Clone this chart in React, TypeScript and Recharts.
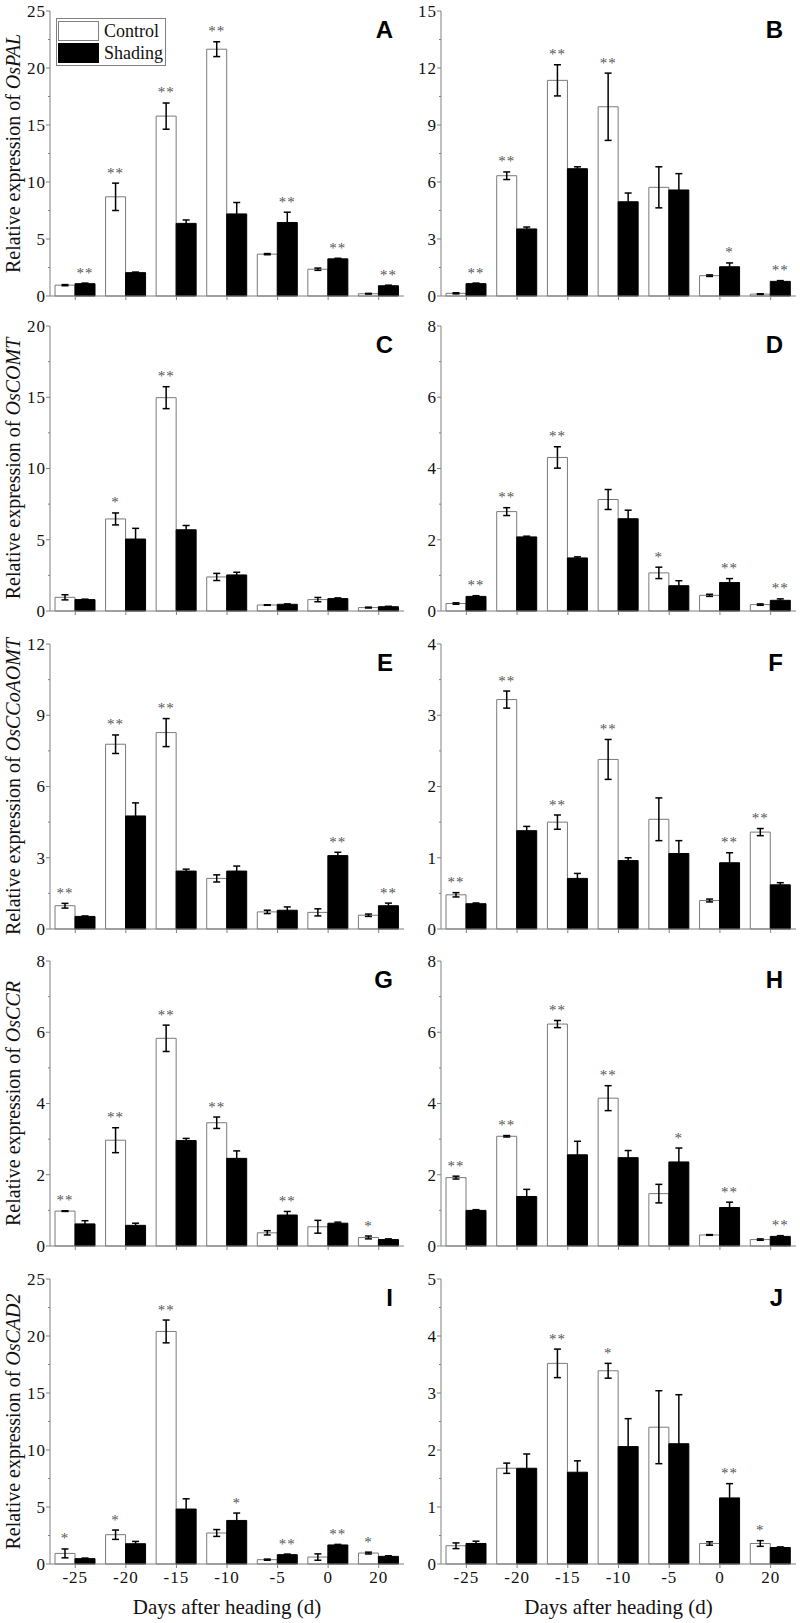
import React from "react";
import { BarChart, Bar, XAxis, YAxis, ErrorBar, LabelList, Label } from "recharts";

const days = ["-25", "-20", "-15", "-10", "-5", "0", "20"];

// A / B – OsPAL
const aControl = [0.95, 8.7, 15.78, 21.65, 3.67, 2.35, 0.2];
const aControlErr = [0.05, 1.2, 1.15, 0.65, 0.05, 0.1, 0.03];
const aShading = [1.08, 2.05, 6.37, 7.2, 6.45, 3.26, 0.9];
const aShadingErr = [0.05, 0.05, 0.3, 1.0, 0.9, 0.05, 0.05];
const aControlSig = ["", "**", "**", "**", "", "", ""];
const aShadingSig = ["**", "", "", "", "**", "**", "**"];
const aTicks = [0, 5, 10, 15, 20, 25];

const bControl = [0.14, 6.33, 11.35, 9.96, 5.72, 1.07, 0.1];
const bControlErr = [0.03, 0.2, 0.82, 1.77, 1.08, 0.04, 0.02];
const bShading = [0.65, 3.53, 6.7, 4.96, 5.58, 1.54, 0.77];
const bShadingErr = [0.03, 0.1, 0.1, 0.46, 0.86, 0.2, 0.04];
const bControlSig = ["", "**", "**", "**", "", "", ""];
const bShadingSig = ["**", "", "", "", "", "*", "**"];
const bTicks = [0, 3, 6, 9, 12, 15];

// C / D – OsCOMT
const cControl = [0.96, 6.46, 14.97, 2.39, 0.42, 0.8, 0.24];
const cControlErr = [0.18, 0.42, 0.77, 0.25, 0.02, 0.15, 0.03];
const cShading = [0.8, 5.05, 5.7, 2.53, 0.47, 0.87, 0.3];
const cShadingErr = [0.03, 0.75, 0.3, 0.19, 0.03, 0.05, 0.03];
const cControlSig = ["", "*", "**", "", "", "", ""];
const cShadingSig = ["", "", "", "", "", "", ""];
const cTicks = [0, 5, 10, 15, 20];

const dControl = [0.21, 2.79, 4.31, 3.13, 1.07, 0.44, 0.18];
const dControlErr = [0.02, 0.11, 0.3, 0.28, 0.16, 0.03, 0.02];
const dShading = [0.41, 2.08, 1.49, 2.59, 0.71, 0.8, 0.3];
const dShadingErr = [0.02, 0.02, 0.03, 0.24, 0.14, 0.11, 0.04];
const dControlSig = ["", "**", "**", "", "*", "", ""];
const dShadingSig = ["**", "", "", "", "", "**", "**"];
const dTicks = [0, 2, 4, 6, 8];

// E / F – OsCCoAOMT
const eControl = [0.98, 7.78, 8.27, 2.13, 0.72, 0.7, 0.58];
const eControlErr = [0.1, 0.39, 0.59, 0.15, 0.07, 0.15, 0.05];
const eShading = [0.53, 4.76, 2.44, 2.44, 0.79, 3.09, 0.98];
const eShadingErr = [0.02, 0.55, 0.08, 0.21, 0.14, 0.14, 0.11];
const eControlSig = ["**", "**", "**", "", "", "", ""];
const eShadingSig = ["", "", "", "", "", "**", "**"];
const eTicks = [0, 3, 6, 9, 12];

const fControl = [0.48, 3.22, 1.5, 2.38, 1.54, 0.4, 1.36];
const fControlErr = [0.03, 0.12, 0.1, 0.28, 0.3, 0.02, 0.05];
const fShading = [0.355, 1.38, 0.71, 0.96, 1.06, 0.93, 0.62];
const fShadingErr = [0.01, 0.06, 0.07, 0.04, 0.18, 0.14, 0.03];
const fControlSig = ["**", "**", "**", "**", "", "", "**"];
const fShadingSig = ["", "", "", "", "", "**", ""];
const fTicks = [0, 1, 2, 3, 4];

// G / H – OsCCR
const gControl = [0.98, 2.97, 5.83, 3.46, 0.37, 0.54, 0.24];
const gControlErr = [0.01, 0.35, 0.37, 0.16, 0.06, 0.18, 0.04];
const gShading = [0.62, 0.58, 2.96, 2.46, 0.87, 0.64, 0.18];
const gShadingErr = [0.09, 0.06, 0.06, 0.21, 0.1, 0.03, 0.02];
const gControlSig = ["**", "**", "**", "**", "", "", "*"];
const gShadingSig = ["", "", "", "", "**", "", ""];
const gTicks = [0, 2, 4, 6, 8];

const hControl = [1.92, 3.08, 6.23, 4.15, 1.47, 0.31, 0.18];
const hControlErr = [0.04, 0.02, 0.1, 0.35, 0.26, 0.01, 0.02];
const hShading = [1.0, 1.39, 2.56, 2.48, 2.36, 1.08, 0.27];
const hShadingErr = [0.02, 0.2, 0.38, 0.2, 0.39, 0.15, 0.02];
const hControlSig = ["**", "**", "**", "**", "", "", ""];
const hShadingSig = ["", "", "", "", "*", "**", "**"];
const hTicks = [0, 2, 4, 6, 8];

// I / J – OsCAD2
const iControl = [0.93, 2.57, 20.4, 2.72, 0.38, 0.61, 0.96];
const iControlErr = [0.39, 0.41, 1.0, 0.3, 0.05, 0.28, 0.08];
const iShading = [0.47, 1.78, 4.82, 3.82, 0.82, 1.67, 0.67];
const iShadingErr = [0.05, 0.2, 0.9, 0.65, 0.05, 0.05, 0.05];
const iControlSig = ["*", "*", "**", "", "", "", "*"];
const iShadingSig = ["", "", "", "*", "**", "**", ""];
const iTicks = [0, 5, 10, 15, 20, 25];

const jControl = [0.32, 1.68, 3.52, 3.39, 2.4, 0.36, 0.36];
const jControlErr = [0.05, 0.09, 0.25, 0.13, 0.64, 0.03, 0.05];
const jShading = [0.36, 1.68, 1.61, 2.06, 2.11, 1.16, 0.29];
const jShadingErr = [0.04, 0.25, 0.2, 0.49, 0.86, 0.25, 0.01];
const jControlSig = ["", "", "**", "*", "", "", "*"];
const jShadingSig = ["", "", "", "", "", "**", ""];
const jTicks = [0, 1, 2, 3, 4, 5];

const SERIF = "'Liberation Serif', 'Times New Roman', serif";
const SANS = "'Liberation Sans', Arial, sans-serif";
const FRAME = "#808080";

const rows = (c: number[], ce: number[], s: number[], se: number[], cs: string[], ss: string[]) =>
  days.map((day, i) => ({
    day,
    control: c[i],
    controlErr: ce[i],
    shading: s[i],
    shadingErr: se[i],
    controlSig: cs[i],
    shadingSig: ss[i],
  }));

const panels = [
  { letter: "A", gene: "OsPAL", ticks: aTicks, data: rows(aControl, aControlErr, aShading, aShadingErr, aControlSig, aShadingSig) },
  { letter: "B", gene: "", ticks: bTicks, data: rows(bControl, bControlErr, bShading, bShadingErr, bControlSig, bShadingSig) },
  { letter: "C", gene: "OsCOMT", ticks: cTicks, data: rows(cControl, cControlErr, cShading, cShadingErr, cControlSig, cShadingSig) },
  { letter: "D", gene: "", ticks: dTicks, data: rows(dControl, dControlErr, dShading, dShadingErr, dControlSig, dShadingSig) },
  { letter: "E", gene: "OsCCoAOMT", ticks: eTicks, data: rows(eControl, eControlErr, eShading, eShadingErr, eControlSig, eShadingSig) },
  { letter: "F", gene: "", ticks: fTicks, data: rows(fControl, fControlErr, fShading, fShadingErr, fControlSig, fShadingSig) },
  { letter: "G", gene: "OsCCR", ticks: gTicks, data: rows(gControl, gControlErr, gShading, gShadingErr, gControlSig, gShadingSig) },
  { letter: "H", gene: "", ticks: hTicks, data: rows(hControl, hControlErr, hShading, hShadingErr, hControlSig, hShadingSig) },
  { letter: "I", gene: "OsCAD2", ticks: iTicks, data: rows(iControl, iControlErr, iShading, iShadingErr, iControlSig, iShadingSig) },
  { letter: "J", gene: "", ticks: jTicks, data: rows(jControl, jControlErr, jShading, jShadingErr, jControlSig, jShadingSig) },
];

// layout: plot-area top per row (page px), plot height
const PLOT_TOPS = [11, 326, 644, 961, 1279];
const PLOT_H = 285;

// significance stars sit just above the error bar
const starLabel = (vals: number[], errs: number[]) => (props: any) => {
  const { x, y, width, height, value, index } = props;
  if (!value) return null;
  const px = Number(height) / vals[index];
  const top = Number(y) - errs[index] * px;
  return (
    <text x={Number(x) + Number(width) / 2} y={top - 5.5} textAnchor="middle" fontSize={15} letterSpacing={1} fill="#555" fontFamily={SERIF}>
      {value}
    </text>
  );
};

function Panel({ p, idx }: { p: (typeof panels)[number]; idx: number }) {
  const col = idx % 2;
  const row = Math.floor(idx / 2);
  const bottom = row === 4;
  const top = Math.min(PLOT_TOPS[row], 40);
  const axisW = col === 0 ? 50 : 41;
  const width = col === 0 ? 410 : 400;
  const right = col === 0 ? 6 : 4;
  const xAxisH = bottom ? 59 : 24;
  const height = top + PLOT_H + xAxisH;
  const max = p.ticks[p.ticks.length - 1];
  const step = p.ticks[1] - p.ticks[0];
  const allTicks: number[] = [];
  p.ticks.forEach((t, i) => {
    allTicks.push(t);
    if (i < p.ticks.length - 1) allTicks.push(t + step / 2);
  });
  const plotRight = width - right;
  const plotCx = (axisW + plotRight) / 2;

  const yTick = (tp: any) => {
    const v = tp.payload.value;
    const cy = tp.y;
    const major = p.ticks.includes(v);
    return (
      <g>
        <line x1={axisW - (major ? 4 : 2)} x2={axisW} y1={cy} y2={cy} stroke={FRAME} />
        {major && (
          <text x={axisW - 4} y={cy} dy="0.35em" textAnchor="end" fontSize={17} letterSpacing={1} fill="#111" fontFamily={SERIF}>
            {v}
          </text>
        )}
      </g>
    );
  };

  return (
    <div style={{ position: "absolute", left: col === 0 ? 0 : 400, top: PLOT_TOPS[row] - top, width, height }}>
      <BarChart
        width={width}
        height={height}
        data={p.data}
        margin={{ top, right, bottom: 0, left: 0 }}
        barGap={0}
        barSize={20}
      >
        <XAxis
          dataKey="day"
          height={xAxisH}
          interval={0}
          stroke={FRAME}
          tickSize={4}
          tickMargin={3}
          tick={bottom ? { fontSize: 17, fill: "#111", fontFamily: SERIF, letterSpacing: 1 } : () => <g />}
        >
          {bottom && (
            <Label
              content={() => (
                <text x={plotCx} y={top + PLOT_H + 50} textAnchor="middle" fontSize={21} fill="#111" fontFamily={SERIF}>
                  Days after heading (d)
                </text>
              )}
            />
          )}
        </XAxis>
        <XAxis xAxisId="top" dataKey="day" orientation="top" height={0} tick={false} tickLine={false} axisLine={{ stroke: FRAME }} />
        <YAxis
          width={axisW}
          domain={[0, max]}
          ticks={allTicks}
          interval={0}
          tickLine={false}
          axisLine={{ stroke: FRAME }}
          tick={yTick}
        >
          {p.gene && (
            <Label
              content={() => {
                const cy = top + PLOT_H / 2;
                return (
                  <text x={20} y={cy} transform={`rotate(-90, 20, ${cy})`} textAnchor="middle" fontSize={20} fill="#111" fontFamily={SERIF}>
                    Relative expression of <tspan fontStyle="italic">{p.gene}</tspan>
                  </text>
                );
              }}
            />
          )}
        </YAxis>
        <YAxis yAxisId="frame" orientation="right" width={0} tick={false} tickLine={false} axisLine={{ stroke: FRAME }} />
        <Bar dataKey="control" fill="#ffffff" stroke="#7a7a7a" strokeWidth={1} isAnimationActive={false}>
          <ErrorBar dataKey="controlErr" width={3.5} stroke="#000" strokeWidth={1.5} />
          <LabelList dataKey="controlSig" content={starLabel(p.data.map((d) => d.control), p.data.map((d) => d.controlErr))} />
        </Bar>
        <Bar dataKey="shading" fill="#000000" stroke="#000000" strokeWidth={1} isAnimationActive={false}>
          <ErrorBar dataKey="shadingErr" width={3.5} stroke="#000" strokeWidth={1.5} />
          <LabelList dataKey="shadingSig" content={starLabel(p.data.map((d) => d.shading), p.data.map((d) => d.shadingErr))} />
        </Bar>
      </BarChart>
      <svg width={width} height={height} style={{ position: "absolute", left: 0, top: 0, pointerEvents: "none" }}>
        <text x={plotRight - (col === 0 ? 11 : 13)} y={top + 27} textAnchor="end" fontSize={24} fontWeight="bold" fill="#000" fontFamily={SANS}>
          {p.letter}
        </text>
      </svg>
    </div>
  );
}

function LegendBox() {
  return (
    <div
      style={{
        position: "absolute",
        left: 56,
        top: 18,
        width: 110,
        height: 48,
        boxSizing: "border-box",
        border: `1px solid ${FRAME}`,
        background: "#fff",
        fontFamily: SERIF,
        fontSize: 18,
        color: "#111",
      }}
    >
      <div style={{ position: "absolute", left: 1, top: 2, width: 41, height: 20, boxSizing: "border-box", border: `1px solid ${FRAME}`, background: "#fff" }} />
      <div style={{ position: "absolute", left: 1, top: 24, width: 41, height: 20, background: "#000" }} />
      <span style={{ position: "absolute", left: 47, top: 2, lineHeight: "20px" }}>Control</span>
      <span style={{ position: "absolute", left: 47, top: 24, lineHeight: "20px" }}>Shading</span>
    </div>
  );
}

export default function App() {
  return (
    <div style={{ position: "absolute", left: 0, top: 0, width: 800, height: 1623, background: "#fff" }}>
      {panels.map((p, i) => (
        <Panel key={p.letter} p={p} idx={i} />
      ))}
      <LegendBox />
    </div>
  );
}
